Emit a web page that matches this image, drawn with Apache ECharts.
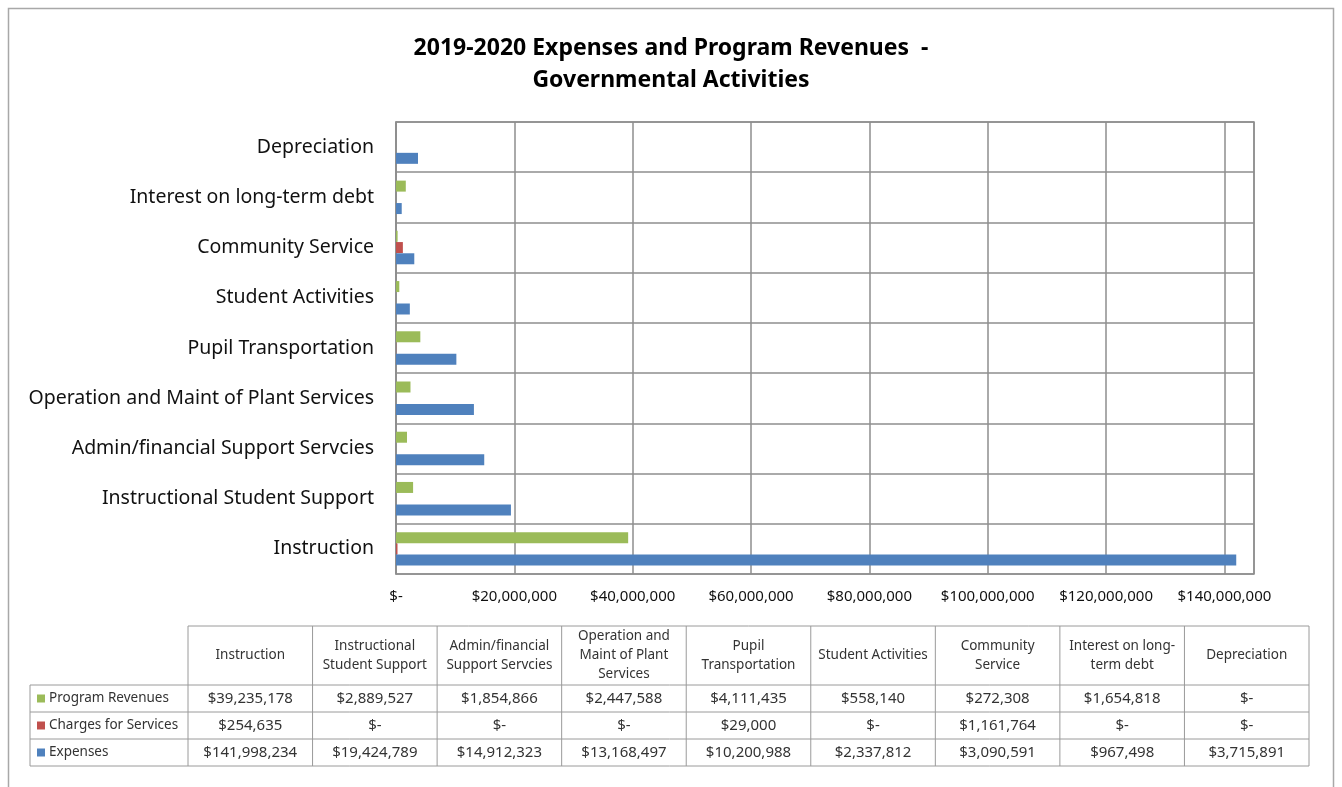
<!DOCTYPE html>
<html>
<head>
<meta charset="utf-8">
<script src="https://cdn.jsdelivr.net/npm/echarts@6/dist/echarts.min.js"></script>
<style>
  html, body { margin: 0; padding: 0; background: #ffffff; }
  #chart { width: 1342px; height: 787px; }
</style>
</head>
<body>
<div id="chart"></div>
<script>
// Functions, bottom to top on the chart and left to right in the table
const categories = [
  'Instruction',
  'Instructional Student Support',
  'Admin/financial Support Servcies',
  'Operation and Maint of Plant Services',
  'Pupil Transportation',
  'Student Activities',
  'Community Service',
  'Interest on long-term debt',
  'Depreciation'
];

// Column headings of the data table (wrapped as printed)
const tableHeaders = [
  'Instruction',
  'Instructional\nStudent Support',
  'Admin/financial\nSupport Servcies',
  'Operation and\nMaint of Plant\nServices',
  'Pupil\nTransportation',
  'Student Activities',
  'Community\nService',
  'Interest on long-\nterm debt',
  'Depreciation'
];

const programRevenues = [39235178, 2889527, 1854866, 2447588, 4111435, 558140, 272308, 1654818, 0];
const chargesForServices = [254635, 0, 0, 0, 29000, 0, 1161764, 0, 0];
const expenses = [141998234, 19424789, 14912323, 13168497, 10200988, 2337812, 3090591, 967498, 3715891];

const seriesNames = ['Program Revenues', 'Charges for Services', 'Expenses'];
const seriesColors = ['#9BBB59', '#C0504D', '#4F81BD'];
const seriesValues = [programRevenues, chargesForServices, expenses];

const axisMax = 145000000;
const axisStep = 20000000;

function money(v) {
  return v === 0 ? '$-' : '$' + v.toLocaleString('en-US');
}

const FONT = '"Noto Sans", "DejaVu Sans", sans-serif';
const gridColor = '#8e8e8e';
const tableLine = '#9a9a9a';
const textColor = '#333333';

// ----- data table beneath the plot -----
const tbl = {
  labelLeft: 30,
  left: 188,
  right: 1309,
  headTop: 626,
  headBottom: 685,
  rowH: 27
};
const colW = (tbl.right - tbl.left) / categories.length;
const tableBottom = tbl.headBottom + tbl.rowH * seriesNames.length;
const graphics = [];

// outer frame of the chart area
graphics.push({
  type: 'rect',
  shape: { x: 8.5, y: 8.5, width: 1325, height: 790 },
  style: { fill: 'none', stroke: '#a8a8a8', lineWidth: 1.5 },
  silent: true
});

// horizontal rules
graphics.push({ type: 'line', shape: { x1: tbl.left, y1: tbl.headTop, x2: tbl.right, y2: tbl.headTop },
  style: { stroke: tableLine, lineWidth: 1 } });
for (let r = 0; r <= seriesNames.length; r++) {
  const y = tbl.headBottom + r * tbl.rowH;
  graphics.push({ type: 'line', shape: { x1: tbl.labelLeft, y1: y, x2: tbl.right, y2: y },
    style: { stroke: tableLine, lineWidth: 1 } });
}
// vertical rules
graphics.push({ type: 'line', shape: { x1: tbl.labelLeft, y1: tbl.headBottom, x2: tbl.labelLeft, y2: tableBottom },
  style: { stroke: tableLine, lineWidth: 1 } });
for (let c = 0; c <= categories.length; c++) {
  const x = tbl.left + c * colW;
  graphics.push({ type: 'line', shape: { x1: x, y1: tbl.headTop, x2: x, y2: tableBottom },
    style: { stroke: tableLine, lineWidth: 1 } });
}
// column headings
tableHeaders.forEach((h, c) => {
  graphics.push({
    type: 'text',
    x: tbl.left + (c + 0.5) * colW,
    y: (tbl.headTop + tbl.headBottom) / 2,
    style: { text: h, align: 'center', verticalAlign: 'middle', font: '13.5px ' + FONT,
      lineHeight: 19, fill: textColor }
  });
});
// series rows: legend key, name, values
seriesNames.forEach((name, r) => {
  const yMid = tbl.headBottom + (r + 0.5) * tbl.rowH;
  graphics.push({ type: 'rect', shape: { x: 37, y: yMid - 4, width: 8, height: 8 },
    style: { fill: seriesColors[r] } });
  graphics.push({ type: 'text', x: 49, y: yMid,
    style: { text: name, align: 'left', verticalAlign: 'middle', font: '13.5px ' + FONT, fill: textColor } });
  seriesValues[r].forEach((v, c) => {
    graphics.push({ type: 'text', x: tbl.left + (c + 0.5) * colW, y: yMid,
      style: { text: money(v), align: 'center', verticalAlign: 'middle', font: '15px ' + FONT, fill: textColor } });
  });
});

const chart = echarts.init(document.getElementById('chart'), null, { renderer: 'canvas' });

chart.setOption({
  animation: false,
  backgroundColor: '#ffffff',
  title: {
    text: '2019-2020 Expenses and Program Revenues  -\nGovernmental Activities',
    left: 'center',
    top: 27,
    textStyle: { fontFamily: FONT, fontWeight: 'bold', fontSize: 23, lineHeight: 32, color: '#000000' }
  },
  grid: {
    left: 396, top: 122, right: 88, bottom: 213,
    show: true, borderColor: gridColor, borderWidth: 1.5, backgroundColor: 'transparent'
  },
  xAxis: {
    type: 'value',
    min: 0,
    max: axisMax,
    interval: axisStep,
    axisLine: { show: false },
    axisTick: { show: false },
    splitLine: { show: true, lineStyle: { color: gridColor, width: 1.5 } },
    axisLabel: {
      showMaxLabel: false,
      margin: 15,
      fontFamily: FONT, fontSize: 15, color: '#111111',
      formatter: v => money(v)
    }
  },
  yAxis: {
    type: 'category',
    data: categories,
    axisLine: { show: true, lineStyle: { color: gridColor, width: 1.5 } },
    axisTick: { show: false },
    splitLine: { show: true, lineStyle: { color: gridColor, width: 1.5 } },
    axisLabel: { margin: 22, fontFamily: FONT, fontSize: 19.5, color: '#111111' }
  },
  series: seriesNames.map((name, i) => ({
    name: name,
    type: 'bar',
    data: seriesValues[i],
    barWidth: 11,
    barGap: '2%',
    itemStyle: { color: seriesColors[i] }
  })),
  graphic: graphics
});
</script>
</body>
</html>
